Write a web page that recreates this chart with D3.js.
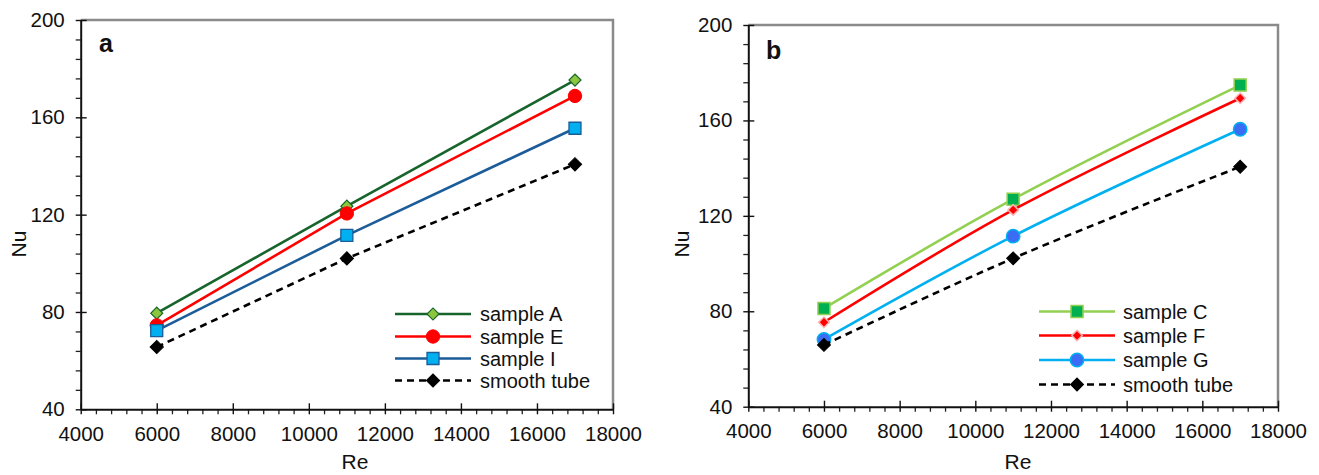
<!DOCTYPE html>
<html><head><meta charset="utf-8">
<script src="https://cdn.jsdelivr.net/npm/d3@7"></script>
<style>
body{margin:0;background:#fff;}
svg text{font-family:"Liberation Sans",Arial,sans-serif;fill:#111;}
</style></head>
<body><svg id="c" width="1319" height="475"></svg>
<script>
// ---- data ----
const reValues = [6000, 11000, 17000];
const xTickValues = [4000, 6000, 8000, 10000, 12000, 14000, 16000, 18000];
const yTickValues = [40, 80, 120, 160, 200];

const seriesNamesA = ["sample A", "sample E", "sample I", "smooth tube"];
const sampleA = [79.5, 123.5, 175.3];
const sampleE = [74.5, 120.5, 168.8];
const sampleI = [72.3, 111.5, 155.5];
const smoothA = [65.6, 102, 140.7];

const seriesNamesB = ["sample C", "sample F", "sample G", "smooth tube"];
const sampleC = [81.2, 127, 174.8];
const sampleF = [75.4, 122.5, 169.3];
const sampleG = [68.2, 111.5, 156.3];
const smoothB = [65.9, 102.2, 140.6];

const svg = d3.select("#c");

function drawPanel(cfg) {
  const g = svg.append("g");
  const x = d3.scaleLinear().domain([4000, 18000]).range([cfg.left, cfg.right]);
  const y = d3.scaleLinear().domain([40, 200]).range([cfg.bottom, cfg.top]);

  // frame (top/right gray)
  g.append("path")
    .attr("d", `M${cfg.left},${cfg.top}H${cfg.right}V${cfg.bottom}`)
    .attr("fill", "none").attr("stroke", "#8a8a8a").attr("stroke-width", 2.5);

  // minor ticks
  const xMinor = d3.range(4000, 18001, 400).filter(v => v % 2000 !== 0);
  const yMinor = d3.range(40, 201, 8).filter(v => v % 40 !== 0);
  g.append("g").attr("transform", `translate(0,${cfg.bottom})`)
    .call(d3.axisBottom(x).tickValues(xMinor).tickSize(5).tickFormat(""))
    .call(s => s.select(".domain").remove())
    .selectAll("line").attr("stroke", "#222").attr("stroke-width", 1.3);
  g.append("g").attr("transform", `translate(${cfg.left},0)`)
    .call(d3.axisLeft(y).tickValues(yMinor).tickSize(5).tickFormat(""))
    .call(s => s.select(".domain").remove())
    .selectAll("line").attr("stroke", "#222").attr("stroke-width", 1.3);

  // major axes
  const xa = g.append("g").attr("transform", `translate(0,${cfg.bottom})`)
    .call(d3.axisBottom(x).tickValues(xTickValues).tickFormat(d3.format("d"))
      .tickSize(5).tickPadding(12).tickSizeOuter(0));
  xa.selectAll(".tick line").attr("y1", -6).attr("stroke", "#111").attr("stroke-width", 1.4);
  xa.select(".domain").attr("stroke", "#111").attr("stroke-width", 2);
  xa.selectAll("text").attr("font-size", 20.5).attr("fill", "#111")
    .style("font-family", "'Liberation Sans', Arial, sans-serif");

  const ya = g.append("g").attr("transform", `translate(${cfg.left},0)`)
    .call(d3.axisLeft(y).tickValues(yTickValues).tickFormat(d3.format("d"))
      .tickSize(5).tickPadding(11).tickSizeOuter(0));
  ya.selectAll(".tick line").attr("x1", 6).attr("stroke", "#111").attr("stroke-width", 1.4);
  ya.select(".domain").attr("stroke", "#111").attr("stroke-width", 2);
  ya.selectAll("text").attr("font-size", 20.5).attr("fill", "#111")
    .style("font-family", "'Liberation Sans', Arial, sans-serif");

  // axis titles
  g.append("text").attr("x", cfg.reX).attr("y", 469).attr("text-anchor", "middle")
    .attr("font-size", 21).text("Re");
  g.append("text").attr("transform", `translate(${cfg.nuX},244) rotate(-90)`)
    .attr("text-anchor", "middle").attr("font-size", 21).text("Nu");

  // panel letter
  g.append("text").attr("x", cfg.letterX).attr("y", cfg.letterY)
    .attr("font-size", 25).attr("font-weight", "bold").text(cfg.letter);

  const lineGen = d3.line().x((d, i) => x(reValues[i])).y(d => y(d)).curve(cfg.curve);

  // draw series in order, each line then its markers
  cfg.series.forEach(s => {
    g.append("path").datum(s.values).attr("d", lineGen)
      .attr("fill", "none").attr("stroke", s.line).attr("stroke-width", s.width)
      .attr("stroke-dasharray", s.dash || null);
    g.selectAll(null).data(s.values).enter().append("path")
      .attr("d", d3.symbol().type(s.symbol).size(s.size))
      .attr("transform", (d, i) => `translate(${x(reValues[i])},${y(d)}) rotate(${s.rot || 0})`)
      .attr("fill", s.fill).attr("stroke", s.stroke).attr("stroke-width", s.sw);
  });

  // legend
  cfg.series.forEach((s, i) => {
    const ly = cfg.legY[i];
    g.append("line").attr("x1", cfg.legX1).attr("x2", cfg.legX2).attr("y1", ly).attr("y2", ly)
      .attr("stroke", s.line).attr("stroke-width", s.width).attr("stroke-dasharray", s.dash || null);
    g.append("path").attr("d", d3.symbol().type(s.symbol).size(s.size))
      .attr("transform", `translate(${(cfg.legX1 + cfg.legX2) / 2},${ly}) rotate(${s.rot || 0})`)
      .attr("fill", s.fill).attr("stroke", s.stroke).attr("stroke-width", s.sw);
    g.append("text").attr("x", cfg.legText).attr("y", ly + 7).attr("font-size", 20).text(s.name);
  });
}

drawPanel({
  left: 80.7, right: 613, top: 20, bottom: 409.3,
  reX: 355, nuX: 26, letter: "a", letterX: 99, letterY: 52,
  curve: d3.curveLinear,
  legX1: 395, legX2: 471, legText: 480, legY: [314, 336.5, 358.5, 380.5],
  series: [
    {name: seriesNamesA[0], values: sampleA, line: "#17652c", width: 2.6, symbol: d3.symbolSquare, rot: 45, size: 72, fill: "#8cc63f", stroke: "#17652c", sw: 1.2},
    {name: seriesNamesA[1], values: sampleE, line: "#ff0000", width: 2.6, symbol: d3.symbolCircle, size: 140, fill: "#ff0000", stroke: "#ff0000", sw: 1},
    {name: seriesNamesA[2], values: sampleI, line: "#1b5c99", width: 2.6, symbol: d3.symbolSquare, size: 144, fill: "#00b0f0", stroke: "#1b5c99", sw: 1.3},
    {name: seriesNamesA[3], values: smoothA, line: "#000", width: 2.6, dash: "7,5", symbol: d3.symbolSquare, rot: 45, size: 88, fill: "#000", stroke: "#000", sw: 1}
  ]
});

drawPanel({
  left: 748.3, right: 1278, top: 25, bottom: 406.7,
  reX: 1018, nuX: 689, letter: "b", letterX: 766, letterY: 59,
  curve: d3.curveCatmullRom.alpha(0.5),
  legX1: 1039, legX2: 1115, legText: 1123, legY: [311.5, 335.5, 360, 384.5],
  series: [
    {name: seriesNamesB[0], values: sampleC, line: "#92d050", width: 2.6, symbol: d3.symbolSquare, size: 144, fill: "#00b050", stroke: "#92d050", sw: 1.5},
    {name: seriesNamesB[1], values: sampleF, line: "#ff0000", width: 2.6, symbol: d3.symbolSquare, rot: 45, size: 55, fill: "#ff0000", stroke: "#ffb0b0", sw: 1.5},
    {name: seriesNamesB[2], values: sampleG, line: "#00b0f0", width: 2.6, symbol: d3.symbolCircle, size: 140, fill: "#3a6cf4", stroke: "#00b0f0", sw: 1.5},
    {name: seriesNamesB[3], values: smoothB, line: "#000", width: 2.6, dash: "7,5", symbol: d3.symbolSquare, rot: 45, size: 84, fill: "#000", stroke: "#000", sw: 1}
  ]
});
</script></body></html>
